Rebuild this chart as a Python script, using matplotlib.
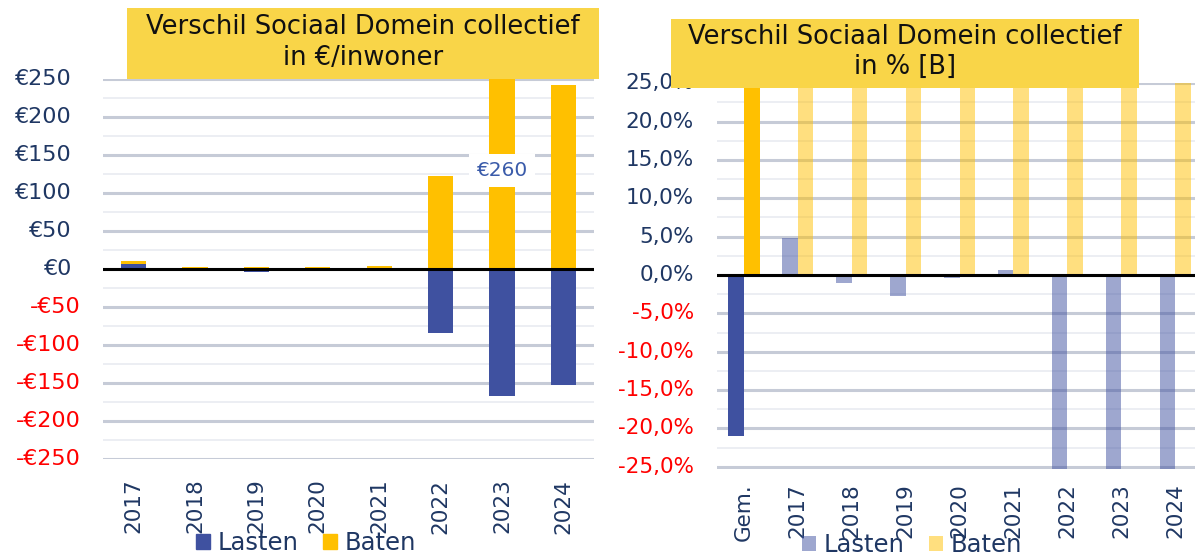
import matplotlib
matplotlib.use("Agg")
import matplotlib.pyplot as plt
from matplotlib.patches import Rectangle, Patch
from matplotlib.ticker import MultipleLocator
import numpy as np

plt.rcParams['font.family'] = ['DejaVu Sans']

# ---- data: difference per inhabitant (EUR) ----
years = ["2017", "2018", "2019", "2020", "2021", "2022", "2023", "2024"]
lasten_eur = [7, -2, -4, -1, 1, -84, -167, -152]
baten_eur = [11, 2.5, 3.5, 2.5, 4, 123, 260, 242]
eur_ticks = [-250, -200, -150, -100, -50, 0, 50, 100, 150, 200, 250]

# ---- data: difference in percent ----
pct_categories = ["Gem.", "2017", "2018", "2019", "2020", "2021", "2022", "2023", "2024"]
lasten_pct = [-21.0, 4.8, -1.0, -2.7, -0.4, 0.7, -57.0, -114.0, -104.0]
baten_pct = [30.0, 220.0, 50.0, 70.0, 50.0, 80.0, 2460.0, 5200.0, 4840.0]
pct_ticks = [-25, -20, -15, -10, -5, 0, 5, 10, 15, 20, 25]

title_eur = "Verschil Sociaal Domein collectief\nin €/inwoner"
title_pct = "Verschil Sociaal Domein collectief\nin % [B]"
legend_labels = ["Lasten", "Baten"]

# ---- styling ----
W, H = 1195, 558
BLUE = "#3F51A0"
ORANGE = "#FFC000"
NAVY = "#1F3763"
RED = "#FF0000"
BOX = "#F9D548"
GRID_MAJOR = "#C6CBD7"
GRID_MINOR = "#ECEEF3"

fig = plt.figure(figsize=(W / 100, H / 100), dpi=100)


def px_axes(x0, y_top, x1, y_bottom):
    return [x0 / W, 1 - y_bottom / H, (x1 - x0) / W, (y_bottom - y_top) / H]


def style_axes(ax, major, minor):
    for s in ax.spines.values():
        s.set_visible(False)
    ax.yaxis.set_major_locator(MultipleLocator(major))
    ax.yaxis.set_minor_locator(MultipleLocator(minor))
    ax.grid(axis="y", which="major", color=GRID_MAJOR, lw=2.2)
    ax.grid(axis="y", which="minor", color=GRID_MINOR, lw=1.4)
    ax.set_axisbelow(True)
    ax.tick_params(axis="both", which="both", length=0)
    ax.tick_params(axis="y", which="both", labelleft=False)
    ax.axhline(0, color="black", lw=2.2, zorder=5)


def y_labels(ax, values, texts, offsets, fs):
    for v, t, off in zip(values, texts, offsets):
        ax.annotate(t, xy=(0, v), xycoords=ax.get_yaxis_transform(),
                    xytext=(-off, 0), textcoords="offset pixels",
                    ha="right", va="center", fontsize=fs,
                    color=RED if v < 0 else NAVY, annotation_clip=False)


def title_box(x0, y0, x1, y1, text):
    fig.patches.append(Rectangle((x0 / W, 1 - y1 / H), (x1 - x0) / W, (y1 - y0) / H,
                                 transform=fig.transFigure, facecolor=BOX,
                                 edgecolor="none", zorder=10))
    fig.text((x0 + x1) / 2 / W, 1 - (y0 + y1) / 2 / H + 0.002, text, ha="center",
             va="center", fontsize=18.5, color="#111111", linespacing=1.22, zorder=11)


# ================= left chart: EUR per inhabitant =================
ax1 = fig.add_axes(px_axes(103, 79.3, 594, 459.3))
x1 = np.arange(len(years))
ax1.bar(x1, baten_eur, width=0.41, color=ORANGE, zorder=2)
ax1.bar(x1, lasten_eur, width=0.41, color=BLUE, zorder=3)
ax1.set_xlim(-0.5, len(years) - 0.5)
ax1.set_ylim(-250, 250)
style_axes(ax1, 50, 25)
ax1.set_xticks(x1, years, rotation=90, fontsize=15.5, color=NAVY)
ax1.tick_params(axis="x", pad=14)

eur_texts = [f"€{v}" if v >= 0 else f"-€{abs(v)}" for v in eur_ticks]
eur_offsets = [31 if v >= 0 else 22 for v in eur_ticks]
y_labels(ax1, eur_ticks, eur_texts, eur_offsets, 16)

# value label for bars that run past the top of the axis
top = ax1.get_ylim()[1]
for xi, v in zip(x1, baten_eur):
    if v > top:
        ax1.text(xi, top / 2 + 5, f"€{v:.0f}", ha="center", va="center", fontsize=14.5,
                 color="#3A5BAA", zorder=6,
                 bbox=dict(boxstyle="square,pad=0.35", facecolor="white", edgecolor="none"))

fig.legend([Patch(color=BLUE), Patch(color=ORANGE)], legend_labels,
           loc="center", bbox_to_anchor=(306 / W, 1 - 543 / H), ncol=2, frameon=False,
           fontsize=17.5, labelcolor=NAVY, handlelength=0.6, handleheight=0.6,
           handletextpad=0.3, columnspacing=1.0, borderpad=0, borderaxespad=0)

title_box(126.7, 8.3, 599, 79, title_eur)

# ================= right chart: percent =================
ax2 = fig.add_axes(px_axes(717, 83.3, 717 + 9 * 53.9, 469))
x2 = np.arange(len(pct_categories))
bw = 0.29
for i in x2:
    a = 1.0 if i == 0 else 0.5
    ax2.bar(i - bw / 2, lasten_pct[i], width=bw, color=BLUE, alpha=a, zorder=3, lw=0)
    ax2.bar(i + bw / 2, baten_pct[i], width=bw, color=ORANGE, alpha=a, zorder=3, lw=0)
ax2.set_xlim(-0.5, len(pct_categories) - 0.5)
ax2.set_ylim(-25.3, 25)
style_axes(ax2, 5, 2.5)
ax2.set_xticks(x2, pct_categories, rotation=90, fontsize=15.5, color=NAVY)
ax2.tick_params(axis="x", pad=10)

pct_texts = [f"{v:.1f}%".replace(".", ",") for v in pct_ticks]
y_labels(ax2, pct_ticks, pct_texts, [23] * len(pct_ticks), 15.5)

fig.legend([Patch(color=BLUE, alpha=0.5, lw=0), Patch(color=ORANGE, alpha=0.5, lw=0)],
           legend_labels, loc="center", bbox_to_anchor=(912 / W, 1 - 545 / H), ncol=2,
           frameon=False, fontsize=17.5, labelcolor=NAVY, handlelength=0.6,
           handleheight=0.6, handletextpad=0.3, columnspacing=1.0, borderpad=0,
           borderaxespad=0)

title_box(671, 19, 1139, 87.7, title_pct)

fig.savefig("out.png", dpi=100)
